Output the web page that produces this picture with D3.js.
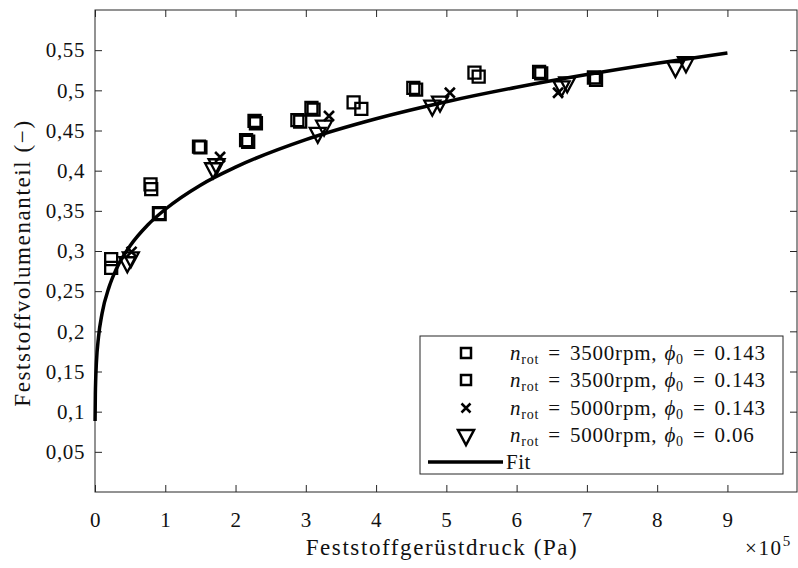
<!DOCTYPE html>
<html><head><meta charset="utf-8">
<script src="https://cdn.jsdelivr.net/npm/d3@7"></script>
<style>body{margin:0;background:#fff}svg text{font-family:"Liberation Serif","DejaVu Serif",serif;fill:#111}</style>
</head><body>
<svg id="c" width="798" height="568"></svg>
<script>
// ---- data (x in 1e5 Pa) ----
const xTicks = [0,1,2,3,4,5,6,7,8,9];
const xTickLabels = ["0","1","2","3","4","5","6","7","8","9"];
const yTicks = [0.05,0.1,0.15,0.2,0.25,0.3,0.35,0.4,0.45,0.5,0.55];
const yTickLabels = ["0,05","0,1","0,15","0,2","0,25","0,3","0,35","0,4","0,45","0,5","0,55"];

const sq1X = [0.23,0.79,0.91,1.48,2.15,2.27,2.88,3.08,3.68,4.53,5.40,6.32,7.10];
const sq1Y = [0.290,0.383,0.347,0.430,0.438,0.462,0.463,0.478,0.485,0.503,0.522,0.523,0.516];
const sq2X = [0.23,0.80,0.92,1.50,2.18,2.29,2.92,3.11,3.79,4.57,5.46,6.35,7.13];
const sq2Y = [0.279,0.377,0.346,0.429,0.436,0.459,0.461,0.476,0.477,0.501,0.517,0.521,0.513];
const crossX = [0.52,1.78,3.33,5.05,6.59];
const crossY = [0.299,0.417,0.468,0.497,0.497];
const triX = [0.46,0.51,1.68,1.73,3.17,3.26,4.80,4.91,6.64,6.72,8.26,8.41];
const triY = [0.286,0.292,0.403,0.408,0.447,0.456,0.481,0.486,0.505,0.510,0.529,0.535];

const fitX = [0.001,0.005,0.01,0.02,0.05,0.1,0.2,0.3,0.5,0.75,1,1.5,2,3,4,5,6,7,8,9];
const fitY = [0.0885,0.122,0.140,0.161,0.193,0.222,0.255,0.277,0.3065,0.3324,0.352,0.382,0.4044,0.4386,0.4646,0.4858,0.5038,0.5196,0.5337,0.5464];

const legendLabels = [
  {rpm:"3500rpm", phi:"0.143", mark:"sq"},
  {rpm:"3500rpm", phi:"0.143", mark:"sq"},
  {rpm:"5000rpm", phi:"0.143", mark:"x"},
  {rpm:"5000rpm", phi:"0.06", mark:"tri"}
];

// ---- layout ----
const L=95, R=797, T=10, B=492;
const svg = d3.select("#c");
const x = d3.scaleLinear().domain([0,9.99]).range([L,R]);
const y = d3.scaleLinear().domain([0,0.6]).range([B,T]);
const ink = "#262626";

// frame
svg.append("rect").attr("x",L).attr("y",T).attr("width",R-L).attr("height",B-T)
  .attr("fill","none").attr("stroke",ink).attr("stroke-width",1);

const tl = 7;
const xa = svg.append("g").attr("transform",`translate(0,${B})`)
  .call(d3.axisBottom(x).tickValues(xTicks).tickFormat((d,i)=>xTickLabels[i]).tickSizeInner(-tl).tickSizeOuter(0).tickPadding(20));
const xt = svg.append("g").attr("transform",`translate(0,${T})`)
  .call(d3.axisTop(x).tickValues(xTicks).tickFormat("").tickSizeInner(-tl).tickSizeOuter(0));
const ya = svg.append("g").attr("transform",`translate(${L},0)`)
  .call(d3.axisLeft(y).tickValues(yTicks).tickFormat((d,i)=>yTickLabels[i]).tickSizeInner(-tl).tickSizeOuter(0).tickPadding(10));
const yr = svg.append("g").attr("transform",`translate(${R},0)`)
  .call(d3.axisRight(y).tickValues(yTicks).tickFormat("").tickSizeInner(-tl).tickSizeOuter(0));
[xa,xt,ya,yr].forEach(g=>{
  g.select(".domain").remove();
  g.selectAll("line").attr("stroke",ink);
  g.selectAll("text").attr("font-size",21).attr("letter-spacing",0.6)
    .attr("font-family","Liberation Serif, serif").attr("fill","#111");
});

// axis labels
svg.append("text").attr("x",442).attr("y",555).attr("text-anchor","middle")
  .attr("font-size",23).attr("letter-spacing",1.6).text("Feststoffgerüstdruck (Pa)");
svg.append("text").attr("transform","translate(30,263) rotate(-90)").attr("text-anchor","middle")
  .attr("font-size",23).attr("letter-spacing",1.6).text("Feststoffvolumenanteil (−)");
const e5 = svg.append("text").attr("x",745).attr("y",555).attr("font-size",21).attr("letter-spacing",1.6);
e5.append("tspan").text("×10");
e5.append("tspan").attr("dy",-9).attr("font-size",15).text("5");

// fit curve
svg.append("path").datum(fitX.map((v,i)=>[v,fitY[i]]))
  .attr("d", d3.line().x(d=>x(d[0])).y(d=>y(d[1])).curve(d3.curveMonotoneX))
  .attr("fill","none").attr("stroke","#000").attr("stroke-width",3.5);

// markers
const sqPath = s => `M${-s/2},${-s/2}h${s}v${s}h${-s}Z`;
const triPath = (w,h) => `M${-w/2},${-h/3}L${w/2},${-h/3}L0,${2*h/3}Z`;
const xPath = s => `M${-s/2},${-s/2}L${s/2},${s/2}M${-s/2},${s/2}L${s/2},${-s/2}`;

function drawSeries(xs, ys, path, sw){
  svg.append("g").selectAll("path").data(xs.map((v,i)=>[v,ys[i]])).join("path")
    .attr("transform",d=>`translate(${x(d[0])},${y(d[1])})`)
    .attr("d",path).attr("fill","none").attr("stroke","#000").attr("stroke-width",sw);
}
drawSeries(sq1X, sq1Y, sqPath(12), 2.3);
drawSeries(sq2X, sq2Y, sqPath(12), 2.3);
drawSeries(crossX, crossY, xPath(10), 2.6);
drawSeries(triX, triY, triPath(16,15), 2.3);

// legend
const lg = svg.append("g");
lg.append("rect").attr("x",420).attr("y",336).attr("width",363).attr("height",138)
  .attr("fill","#fff").attr("stroke",ink).attr("stroke-width",1);
const rowY = [353,380,408,435,462];
legendLabels.forEach((d,i)=>{
  const cy = rowY[i];
  let p, sw=2.5;
  if(d.mark==="sq") p=sqPath(10);
  else if(d.mark==="x") p=xPath(9);
  else p=triPath(16,15);
  lg.append("path").attr("transform",`translate(466,${cy})`).attr("d",p)
    .attr("fill","none").attr("stroke","#000").attr("stroke-width",sw);
  const t = lg.append("text").attr("x",510).attr("y",cy+7).attr("font-size",21).attr("letter-spacing",0.8);
  t.append("tspan").attr("font-style","italic").text("n");
  t.append("tspan").attr("dy",4).attr("font-size",14).text("rot");
  t.append("tspan").attr("dy",-4).attr("dx",9).text("=");
  t.append("tspan").attr("dx",9).text(d.rpm + ",");
  t.append("tspan").attr("dx",7).attr("font-style","italic").text("ϕ");
  t.append("tspan").attr("dy",4).attr("font-size",14).text("0");
  t.append("tspan").attr("dy",-4).attr("dx",9).text("=");
  t.append("tspan").attr("dx",9).text(d.phi);
});
lg.append("line").attr("x1",428).attr("x2",503).attr("y1",rowY[4]).attr("y2",rowY[4])
  .attr("stroke","#000").attr("stroke-width",3.5);
lg.append("text").attr("x",506).attr("y",rowY[4]+7).attr("font-size",21).attr("letter-spacing",0.5).text("Fit");
</script>
</body></html>
